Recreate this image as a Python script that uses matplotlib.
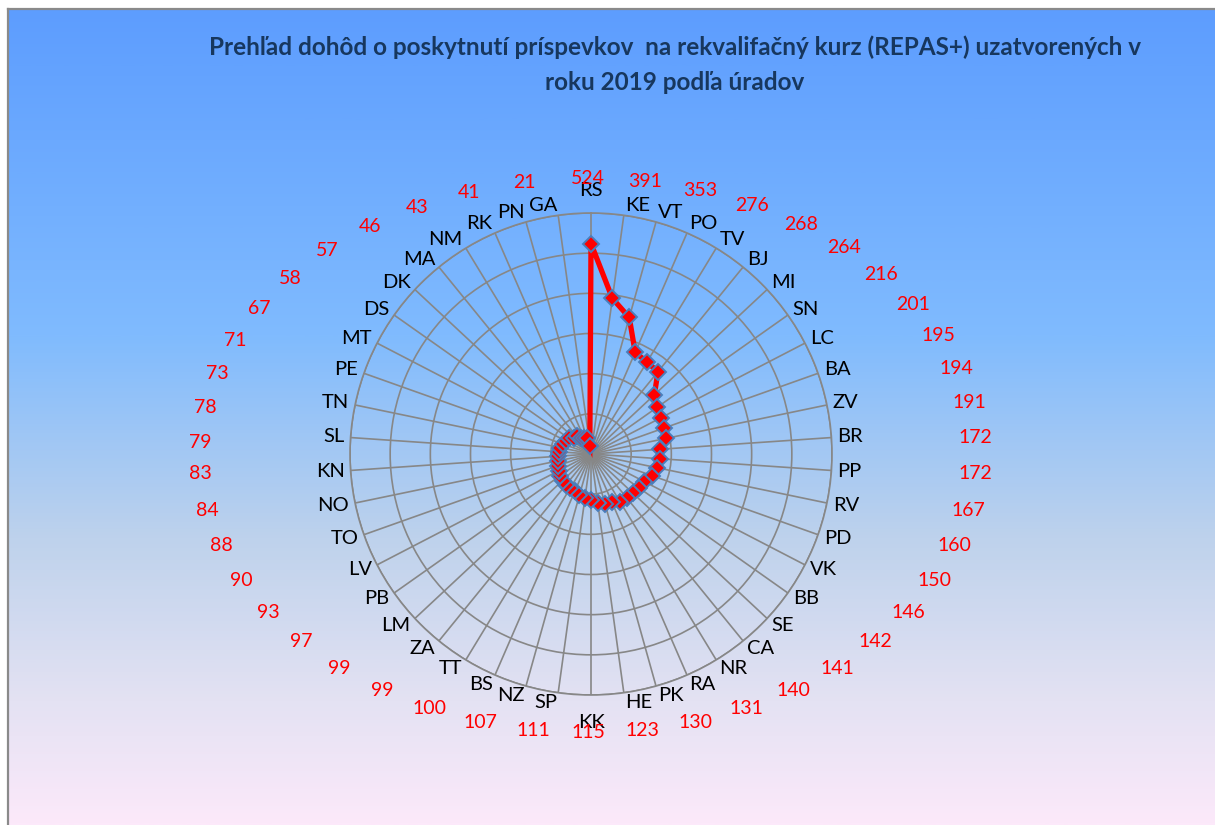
import numpy as np
import matplotlib
matplotlib.use("Agg")
import matplotlib.pyplot as plt
from matplotlib.colors import LinearSegmentedColormap

# ---------------- data ----------------
categories = ["RS", "KE", "VT", "PO", "TV", "BJ", "MI", "SN", "LC", "BA", "ZV", "BR",
              "PP", "RV", "PD", "VK", "BB", "SE", "CA", "NR", "RA", "PK", "HE", "KK",
              "SP", "NZ", "BS", "TT", "ZA", "LM", "PB", "LV", "TO", "NO", "KN", "SL",
              "TN", "PE", "MT", "DS", "DK", "MA", "NM", "RK", "PN", "GA"]
values = [524, 391, 353, 276, 268, 264, 216, 201, 195, 194, 191, 172,
          172, 167, 160, 150, 146, 142, 141, 140, 131, 130, 123, 115,
          111, 107, 100, 99, 99, 97, 93, 90, 88, 84, 83, 79,
          78, 73, 71, 67, 58, 57, 46, 43, 41, 21]
title_line1 = "Prehľad dohôd o poskytnutí príspevkov  na rekvalifačný kurz (REPAS+) uzatvorených v"
title_line2 = "roku 2019 podľa úradov"
r_max = 600
r_ticks = [100, 200, 300, 400, 500, 600]

# ---------------- figure ----------------
W, H = 1215, 825
PX = 72 / 100  # points per pixel
fig = plt.figure(figsize=(W / 100, H / 100), dpi=100)
fig.patch.set_facecolor("white")
FONT = ["Lato", "DejaVu Sans"]

# background gradient panel
bg = fig.add_axes([8 / W, 0, 1 - 8 / W, (H - 9) / H])
bg.set_axis_off()
stops = [(0.0, (252/255, 233/255, 250/255)),
         (0.15, (228/255, 226/255, 243/255)),
         (0.35, (190/255, 210/255, 236/255)),
         (0.6, (128/255, 187/255, 254/255)),
         (1.0, (93/255, 157/255, 255/255))]
cmap = LinearSegmentedColormap.from_list("bg", stops)
grad = np.linspace(0, 1, 512).reshape(-1, 1)
bg.imshow(grad, aspect="auto", cmap=cmap, origin="lower", extent=[0, 1, 0, 1])
bg.set_xlim(0, 1)
bg.set_ylim(0, 1)
fig.add_artist(plt.Line2D([8 / W, 1], [(H - 9) / H, (H - 9) / H], color="#8a8a8a", lw=1.6))
fig.add_artist(plt.Line2D([8 / W, 8 / W], [0, (H - 9) / H], color="#8a8a8a", lw=1.6))

# title
fig.text(675 / W, 1 - 47 / H, title_line1, ha="center", va="center", fontsize=17.5,
         fontweight="bold", color="#17375E", family=FONT)
fig.text(675 / W, 1 - 83 / H, title_line2, ha="center", va="center", fontsize=17.5,
         fontweight="bold", color="#17375E", family=FONT)

# polar axes
cx, cy, R = 591, 454, 241
ax = fig.add_axes([(cx - R) / W, (H - cy - R) / H, 2 * R / W, 2 * R / H], projection="polar")
ax.set_facecolor("none")
ax.set_theta_zero_location("N")
ax.set_theta_direction(-1)
n = len(categories)
angles = np.arange(n) * 2 * np.pi / n
ax.set_ylim(0, r_max)
ax.set_yticks(r_ticks)
ax.set_yticklabels([])
ax.set_xticks(angles)
ax.set_xticklabels([])
ax.tick_params(length=0)
ax.grid(True, color="#878787", linewidth=1.2)
ax.spines["polar"].set_color("#878787")
ax.spines["polar"].set_linewidth(1.2)

# data line
th = np.append(angles, angles[0])
vv = np.append(values, values[0])
ax.plot(th, vv, color="#FF0000", linewidth=3.8, zorder=3, solid_joinstyle="miter")
ax.plot(angles, values, linestyle="none", marker="D", markersize=8.5,
        markerfacecolor="#FF0000", markeredgecolor="#4A7EBB", markeredgewidth=1.4, zorder=4)

# category labels, anchored just outside the outer ring (Excel-like)
r_anchor = r_max * (R + 6) / R
for a, c in zip(angles, categories):
    s, co = np.sin(a), np.cos(a)
    if abs(s) < 0.05:
        ha = "center"
        dy = 16 if co > 0 else -21
    else:
        ha = "left" if s > 0 else "right"
        dy = 4 * co
    ax.annotate(c, xy=(a, r_anchor), xytext=(0, dy * PX), textcoords="offset points",
                ha=ha, va="center", fontsize=14.5, color="black", family=FONT,
                annotation_clip=False)

# value labels on an ellipse around the chart
for a, v in zip(angles, values):
    k = 2.2 if np.cos(a) > 0 else 0.8
    t = a + np.deg2rad(k) * np.sin(2 * a) - np.deg2rad(1.0) * (np.sin(a) < 0) * (np.cos(a) > 0)
    b = 276 if np.cos(t) > 0 else 278
    xp = 588 + 388 * np.sin(t)
    yp = 455 - b * np.cos(t)
    fig.text(xp / W, 1 - yp / H, str(v), ha="center", va="center",
             fontsize=14, color="#FF0000", family=FONT)

fig.savefig("out.png", dpi=100)
